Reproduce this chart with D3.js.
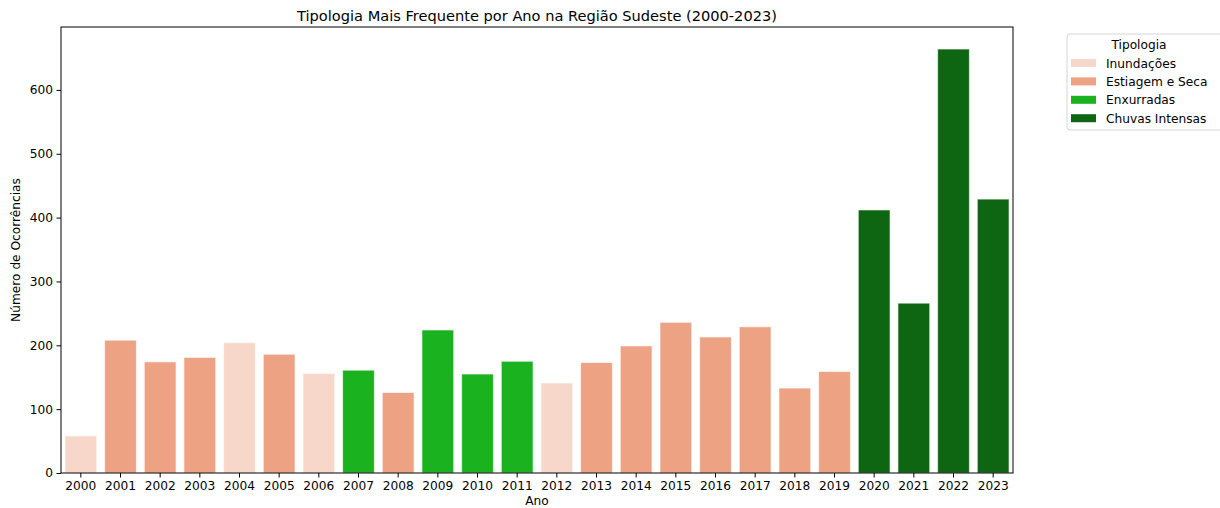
<!DOCTYPE html>
<html>
<head>
<meta charset="utf-8">
<script src="https://cdn.jsdelivr.net/npm/d3@7"></script>
<style>
  body { margin: 0; background: #fff; }
  text { font-family: "DejaVu Sans", sans-serif; fill: #000; }
</style>
</head>
<body>
<div id="chart"></div>
<script>
// data
var anos = ["2000","2001","2002","2003","2004","2005","2006","2007","2008","2009","2010","2011",
            "2012","2013","2014","2015","2016","2017","2018","2019","2020","2021","2022","2023"];
var ocorrencias = [58, 208, 174, 181, 204, 186, 156, 161, 126, 224, 155, 175,
                   141, 173, 199, 236, 213, 229, 133, 159, 412, 266, 664, 429];
var tipologiaAno = ["Inundações","Estiagem e Seca","Estiagem e Seca","Estiagem e Seca","Inundações",
                    "Estiagem e Seca","Inundações","Enxurradas","Estiagem e Seca","Enxurradas",
                    "Enxurradas","Enxurradas","Inundações","Estiagem e Seca","Estiagem e Seca",
                    "Estiagem e Seca","Estiagem e Seca","Estiagem e Seca","Estiagem e Seca",
                    "Estiagem e Seca","Chuvas Intensas","Chuvas Intensas","Chuvas Intensas","Chuvas Intensas"];
var tipologias = ["Inundações", "Estiagem e Seca", "Enxurradas", "Chuvas Intensas"];
var cores = ["#f7d7ca", "#eca283", "#1bb21f", "#0f6612"];
var yTicks = [0, 100, 200, 300, 400, 500, 600];

var W = 1220, H = 508;
var m = {left: 61, right: 1013, top: 27, bottom: 473};
var fs = "12.2px";

var svg = d3.select("#chart").append("svg")
    .attr("width", W)
    .attr("height", H);

var x = d3.scaleBand().domain(anos).range([m.left, m.right])
    .paddingInner(0.2).paddingOuter(0.1);
var y = d3.scaleLinear().domain([0, d3.max(ocorrencias) * 1.052]).range([m.bottom, m.top]);
var cor = d3.scaleOrdinal().domain(tipologias).range(cores);

// bars
svg.selectAll(".bar")
    .data(anos)
    .enter().append("rect")
    .attr("class", "bar")
    .attr("x", function (d) { return x(d); })
    .attr("y", function (d, i) { return y(ocorrencias[i]); })
    .attr("width", x.bandwidth())
    .attr("height", function (d, i) { return y(0) - y(ocorrencias[i]); })
    .attr("fill", function (d, i) { return cor(tipologiaAno[i]); })
    .attr("stroke", "#ffffff")
    .attr("stroke-opacity", 0.6)
    .attr("stroke-width", 1);

// axes
var xAxis = svg.append("g")
    .attr("transform", "translate(0," + m.bottom + ")")
    .call(d3.axisBottom(x).tickSizeInner(4.5).tickSizeOuter(0).tickPadding(3.5));
var yAxis = svg.append("g")
    .attr("transform", "translate(" + m.left + ",0)")
    .call(d3.axisLeft(y).tickValues(yTicks).tickSizeInner(4.5).tickSizeOuter(0).tickPadding(3.5));
[xAxis, yAxis].forEach(function (g) {
    g.select(".domain").remove();
    g.selectAll("text").style("font-size", fs).style("font-family", "DejaVu Sans");
    g.selectAll("line").attr("stroke", "#000");
});

// frame
svg.append("rect")
    .attr("x", m.left).attr("y", m.top)
    .attr("width", m.right - m.left).attr("height", m.bottom - m.top)
    .attr("fill", "none").attr("stroke", "#000").attr("stroke-width", 1);

// titles
svg.append("text")
    .attr("x", (m.left + m.right) / 2).attr("y", 20.5)
    .attr("text-anchor", "middle").style("font-size", "14.6px")
    .text("Tipologia Mais Frequente por Ano na Região Sudeste (2000-2023)");
svg.append("text")
    .attr("x", (m.left + m.right) / 2).attr("y", 505)
    .attr("text-anchor", "middle").style("font-size", fs)
    .text("Ano");
svg.append("text")
    .attr("transform", "translate(20," + ((m.top + m.bottom) / 2) + ") rotate(-90)")
    .attr("text-anchor", "middle").style("font-size", fs)
    .text("Número de Ocorrências");

// legend
var lg = svg.append("g").attr("transform", "translate(1067,34)");
lg.append("rect")
    .attr("width", 160).attr("height", 96).attr("rx", 3)
    .attr("fill", "#fff").attr("stroke", "#d6d6d6");
lg.append("text")
    .attr("x", 72).attr("y", 14.5)
    .attr("text-anchor", "middle").style("font-size", fs)
    .text("Tipologia");
var item = lg.selectAll(".item")
    .data(tipologias)
    .enter().append("g")
    .attr("transform", function (d, i) { return "translate(4," + (25 + i * 18.4) + ")"; });
item.append("rect")
    .attr("width", 25).attr("height", 8)
    .attr("fill", function (d) { return cor(d); });
item.append("text")
    .attr("x", 35).attr("y", 8.5)
    .style("font-size", fs)
    .text(function (d) { return d; });
</script>
</body>
</html>
